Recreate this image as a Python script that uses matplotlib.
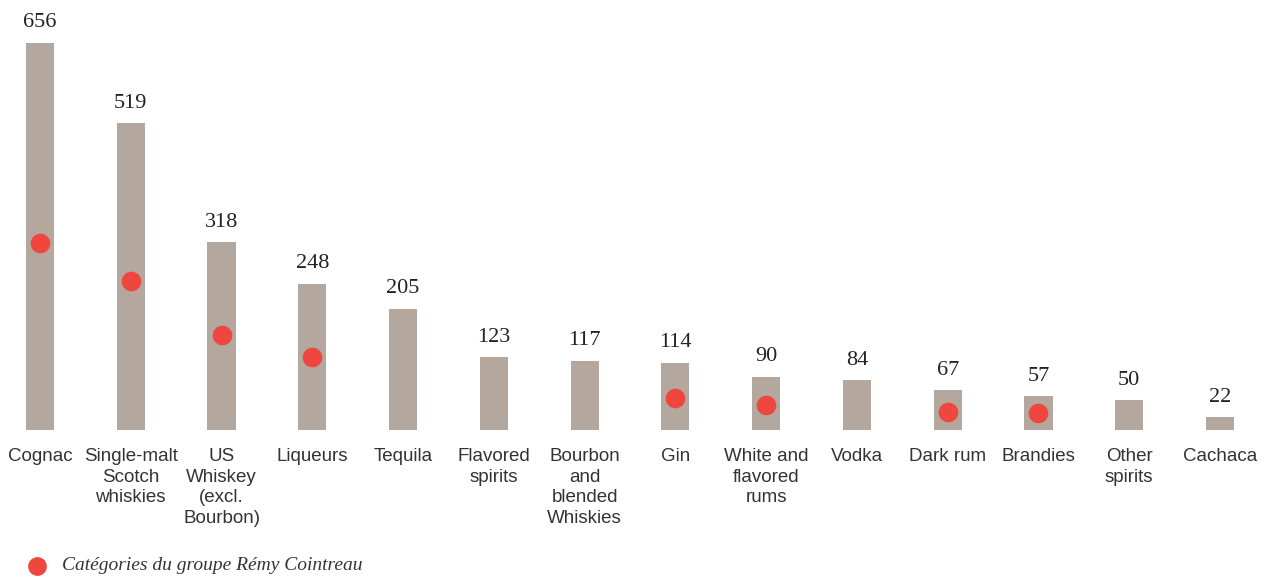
import matplotlib.pyplot as plt

categories = ["Cognac", "Single-malt\nScotch\nwhiskies", "US\nWhiskey\n(excl.\nBourbon)", "Liqueurs",
              "Tequila", "Flavored\nspirits", "Bourbon\nand\nblended\nWhiskies", "Gin",
              "White and\nflavored\nrums", "Vodka", "Dark rum", "Brandies", "Other\nspirits", "Cachaca"]
values = [656, 519, 318, 248, 205, 123, 117, 114, 90, 84, 67, 57, 50, 22]
# catégories Rémy Cointreau (index, valeur du point)
dot_idx = [0, 1, 2, 3, 7, 8, 10, 11]
dot_vals = [317, 253, 160, 124, 54, 43, 31, 29]

bar_color = "#b4a89e"
red = "#f04640"
text_color = "#333333"

fig = plt.figure(figsize=(12.74, 5.79), dpi=100)
ax = fig.add_axes([0, 149 / 579, 1, 430 / 579])

x = list(range(len(categories)))
ax.bar(x, values, width=0.31, color=bar_color, zorder=1)
ax.scatter(dot_idx, dot_vals, s=200, color=red, zorder=2, linewidths=0)

for xi, v in zip(x, values):
    ax.annotate(str(v), (xi, v), xytext=(0, 7.5), textcoords="offset points",
                ha="center", va="bottom", fontsize=16, family="Liberation Serif", color="#222222")

for xi, lab in zip(x, categories):
    ax.text(xi, -31, lab, ha="center", va="top", fontsize=13.5, color=text_color,
            linespacing=1.27, family="Liberation Sans")

ax.set_xlim(-40 / 90.77, (1274 - 40) / 90.77)
ax.set_ylim(0, 430 / 0.5907)
ax.axis("off")

# légende
fig.lines.append(plt.Line2D([37 / 1274], [1 - 566 / 579], marker="o", markersize=13.5, color=red,
                            markeredgewidth=0, transform=fig.transFigure, figure=fig))
fig.text(62 / 1274, 1 - 566 / 579, "Catégories du groupe Rémy Cointreau", ha="left", va="center",
         fontsize=14, style="italic", family="Liberation Serif", color=text_color)

fig.savefig("out.png", dpi=100)
